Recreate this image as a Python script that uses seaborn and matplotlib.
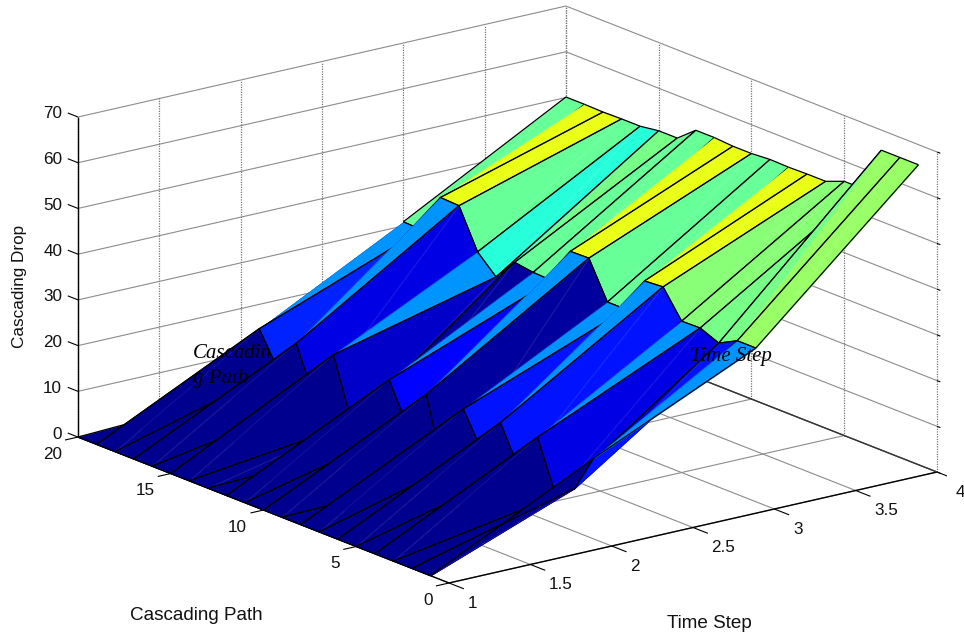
import numpy as np
import matplotlib
matplotlib.use("Agg")
import matplotlib.pyplot as plt
import seaborn as sns
from mpl_toolkits.mplot3d import proj3d
from mpl_toolkits.mplot3d.art3d import Poly3DCollection, Line3DCollection

# surface values, one entry per cascading path (20 down to 1)
time_steps = [1, 2, 3, 4]
paths = list(range(20, 0, -1))
drop_t1 = [0] * 20
drop_t2 = [1.5, 17.2, 9.9, 17.2, 6.3, 17.9, 4.5, 1.3, 17.2, 8.5,
           17.2, 1.0, 17.2, 9.6, 17.4, 9.0, 17.4, 6.1, 9.4, 17.5]
drop_t3 = [30.9, 30.7, 39.4, 39.2, 30.7, 26.8, 31.6, 31.0, 30.8, 38.8,
           38.9, 30.9, 30.9, 38.7, 39.0, 33.1, 33.2, 31.5, 33.6, 33.6]
drop_t4 = [50.1, 50.1, 50.0, 50.1, 50.1, 50.7, 50.7, 54.0, 54.0, 53.7,
           53.7, 54.0, 53.9, 54.0, 54.0, 55.6, 55.6, 65.6, 65.6, 65.6]

x_ticks = [1, 1.5, 2, 2.5, 3, 3.5, 4]
x_tick_labels = ["1", "1.5", "2", "2.5", "3", "3.5", "4"]
y_ticks = [0, 5, 10, 15, 20]
z_ticks = [0, 10, 20, 30, 40, 50, 60, 70]

sns.set_theme(style="white")
plt.rcParams["font.family"] = ["Liberation Sans", "DejaVu Sans"]

W, H = 964, 641
fig = plt.figure(figsize=(W / 100, H / 100), dpi=100)
ax = fig.add_axes([44.1 / W, -116.9 / H, 902.4 / W, 902.4 / H], projection="3d")
ax.set_proj_type("ortho")
ax.set_box_aspect((613, 613, 335.4))
ax.view_init(elev=17.4, azim=-127.25)
ax.set_xlim(1, 4)
ax.set_ylim(0, 20)
ax.set_zlim(0, 70)
ax.set_axis_off()
ax.computed_zorder = False

GRID = "#8c8c8c"
INK = "#111111"
DOTTED = (0, (1, 1))


def line3d(xs, ys, zs, color=GRID, lw=0.8, zorder=1, ls="-"):
    ax.plot(xs, ys, zs, color=color, lw=lw, zorder=zorder, ls=ls, solid_capstyle="butt")


def label3d(x, y, z, text, **kw):
    # Text3D loses its place on screen after drawing, so project it here
    u, v, _ = proj3d.proj_transform(x, y, z, ax.get_proj())
    ax.text2D(u, v, text, transform=ax.transData, va="center", fontsize=12.3, color=INK, **kw)


# walls and floor
for z in z_ticks:
    line3d([1, 4], [20, 20], [z, z])
    line3d([4, 4], [20, 0], [z, z])
for x in x_ticks:
    line3d([x, x], [20, 20], [0, 70], color="#777777", lw=0.9, ls=DOTTED)
    line3d([x, x], [0, 20], [0, 0])
for y in y_ticks:
    line3d([4, 4], [y, y], [0, 70], color="#777777", lw=0.9, ls=DOTTED)
    line3d([1, 4], [y, y], [0, 0])

# box edges and tick marks
line3d([1, 1], [20, 20], [0, 70], color="black", lw=1.0, zorder=2)
line3d([1, 1], [0, 20], [0, 0], color="black", lw=1.0, zorder=2)
line3d([1, 4], [0, 0], [0, 0], color="black", lw=1.0, zorder=2)
line3d([4, 4], [0, 20], [0, 0], color="#333333", lw=1.0, zorder=2)
for x, label in zip(x_ticks, x_tick_labels):
    line3d([x, x], [0, -0.8], [0, 0], color="black", zorder=2)
    label3d(x, -1.0, -2.85, label, ha="left")
for y in y_ticks:
    line3d([1, 0.92], [y, y], [0, 0], color="black", zorder=2)
    label3d(0.9, y, -3.0, str(y), ha="right")
for z in z_ticks:
    line3d([1, 1], [20, 20.55], [z, z], color="black", zorder=2)
    line3d([4, 4], [0, -0.18], [z, z], color="black", zorder=2)
    label3d(1, 20.85, z - 0.7, str(z), ha="right")

# surface, painted cell by cell from the far corner to the near one
Z = np.column_stack([drop_t1, drop_t2, drop_t3, drop_t4])

# the old 64 step jet, seaborn refuses the name
levels = np.linspace(0, 1, 64)
jet_red = np.interp(levels, [0.375, 0.625, 0.875, 1], [0, 1, 1, 0.5])
jet_green = np.interp(levels, [0.125, 0.375, 0.625, 0.875], [0, 1, 1, 0])
jet_blue = np.interp(levels, [0, 0.125, 0.375, 0.625], [0.5625, 1, 1, 0])
jet = sns.color_palette(list(zip(jet_red, jet_green, jet_blue)))
clim = 64.8


def shade(value):
    return jet[min(int(round(value / clim * 63)), 63)]


order = 10
for i in range(len(paths) - 1):
    y0, y1 = paths[i], paths[i + 1]
    for j in range(len(time_steps) - 2, -1, -1):
        x0, x1 = time_steps[j], time_steps[j + 1]
        a = (x0, y0, Z[i, j])
        b = (x1, y0, Z[i, j + 1])
        c = (x1, y1, Z[i + 1, j + 1])
        d = (x0, y1, Z[i + 1, j])
        low, cur = Z[i, j], Z[i + 1, j]
        # a rising cell shows two colours, split along its diagonal
        faces = [([a, b, d], shade(min(low, cur))), ([b, c, d], shade(cur))]
        for verts, color in faces:
            poly = Poly3DCollection([verts], facecolors=[color], edgecolors=[color], linewidths=0.3)
            poly.set_zorder(order)
            ax.add_collection3d(poly, autolim=False)
            order += 1
        seam = Line3DCollection([[b, d]], colors=[(1, 1, 1, 0.1)], linewidths=0.5)
        seam.set_zorder(order)
        ax.add_collection3d(seam, autolim=False)
        order += 1
        # the far edge of a steep rise has no line in the upper strips
        segs = [[b, c], [c, d], [d, a]]
        if j == 0 or cur - low <= 6:
            segs.append([a, b])
        edges = Line3DCollection(segs, colors="black", linewidths=0.9)
        edges.set_zorder(order)
        ax.add_collection3d(edges, autolim=False)
        order += 1


def px(x, y):
    return x / W, 1 - y / H


# labels placed on the figure
fig.text(*px(20, 286), "Cascading Drop", rotation=90, ha="center", va="center", fontsize=12.3, color=INK)
fig.text(*px(196, 616), "Cascading Path", ha="center", va="center", fontsize=13.6, color=INK)
fig.text(*px(709, 623), "Time Step", ha="center", va="center", fontsize=13.6, color=INK)
fig.text(*px(193, 354), "Cascadin", ha="left", va="center", fontsize=15, style="italic",
         family="Liberation Serif", color="black", zorder=50)
fig.text(*px(193, 378), "g Path", ha="left", va="center", fontsize=15, style="italic",
         family="Liberation Serif", color="black", zorder=50)
fig.text(*px(690, 356), "Time Step", ha="left", va="center", fontsize=15, style="italic",
         family="Liberation Serif", color="black", zorder=50)

fig.savefig("out.png", dpi=100)
